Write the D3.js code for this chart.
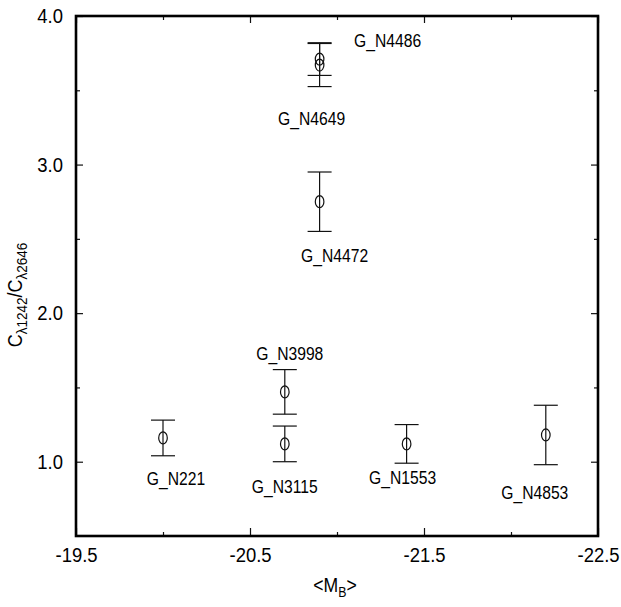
<!DOCTYPE html>
<meta charset="UTF-8">
<title>C1242/C2646 vs MB</title>
<style>
  body { margin: 0; background: #fff; }
  svg text { font-family: "Liberation Sans", Arial, Helvetica, sans-serif; fill: #000; }
</style>
<script src="https://d3js.org/d3.v7.min.js"></script>
<body>
<script>
  // galaxy data
  var galaxies = ["G_N221", "G_N3998", "G_N3115", "G_N1553", "G_N4853", "G_N4472", "G_N4649", "G_N4486"];
  var magB     = [-20.0, -20.7, -20.7, -21.4, -22.2, -20.9, -20.9, -20.9];
  var ratio    = [1.16, 1.47, 1.12, 1.12, 1.18, 2.75, 3.67, 3.71];
  var ratioErr = [0.12, 0.15, 0.12, 0.13, 0.20, 0.20, 0.145, 0.11];

  // label placement relative to each point (px)
  var labelDx = [13, 5, 0, -4, -11, 15, -8, 68];
  var labelDy = [47, -32, 49, 40, 64, 60, 60, -12];

  var xTicks = [-19.5, -20.5, -21.5, -22.5];
  var xMinor = [-20.0, -21.0, -22.0];
  var yTicks = [1.0, 2.0, 3.0, 4.0];
  var yMinor = [1.5, 2.5, 3.5];

  var W = 621, H = 607;
  var mLeft = 76, mRight = 598, mTop = 16, mBottom = 536;

  var svg = d3.select("body").append("svg").attr("width", W).attr("height", H);

  var x = d3.scaleLinear().domain([-19.5, -22.5]).range([mLeft, mRight]);
  var y = d3.scaleLinear().domain([0.5, 4.0]).range([mBottom, mTop]);
  var fmt = function(d) { return d.toFixed(1); };

  // the original uses a narrow helvetica, squeeze the glyphs a bit
  function narrow(sel, k) {
    sel.each(function() {
      var w = this.getComputedTextLength();
      d3.select(this).attr("textLength", w * k).attr("lengthAdjust", "spacingAndGlyphs");
    });
  }

  function tickLayer(axis, tr) {
    var g = svg.append("g").attr("transform", tr).call(axis);
    g.select(".domain").remove();
    g.selectAll(".tick line").attr("stroke", "#111").attr("stroke-width", 1.2);
    return g;
  }

  // major ticks with labels
  var gx = tickLayer(d3.axisBottom(x).tickValues(xTicks).tickSize(-8).tickFormat(fmt), "translate(0," + mBottom + ")");
  gx.selectAll("text").attr("font-size", 20.5).attr("y", 11).attr("dy", "0.72em").call(narrow, 0.9);
  var gy = tickLayer(d3.axisLeft(y).tickValues(yTicks).tickSize(-7).tickFormat(fmt), "translate(" + mLeft + ",0)");
  gy.selectAll("text").attr("font-size", 20.5).attr("x", -13).call(narrow, 0.9);

  // minor ticks and mirrored ticks
  tickLayer(d3.axisBottom(x).tickValues(xMinor).tickSize(-4).tickFormat(""), "translate(0," + mBottom + ")");
  tickLayer(d3.axisLeft(y).tickValues(yMinor).tickSize(-4).tickFormat(""), "translate(" + mLeft + ",0)");
  tickLayer(d3.axisTop(x).tickValues(xTicks).tickSize(-7).tickFormat(""), "translate(0," + mTop + ")");
  tickLayer(d3.axisTop(x).tickValues(xMinor).tickSize(-4).tickFormat(""), "translate(0," + mTop + ")");
  tickLayer(d3.axisRight(y).tickValues(yTicks).tickSize(-7).tickFormat(""), "translate(" + mRight + ",0)");
  tickLayer(d3.axisRight(y).tickValues(yMinor).tickSize(-4).tickFormat(""), "translate(" + mRight + ",0)");

  // frame
  svg.append("rect")
    .attr("x", mLeft).attr("y", mTop)
    .attr("width", mRight - mLeft).attr("height", mBottom - mTop)
    .attr("fill", "none").attr("stroke", "#000").attr("stroke-width", 2.6);

  // points with error bars
  var idx = d3.range(galaxies.length);
  var pts = svg.append("g").selectAll("g").data(idx).enter().append("g")
    .attr("stroke", "#111").attr("stroke-width", 1.2).attr("fill", "none");

  pts.append("line")
    .attr("x1", function(i) { return x(magB[i]); })
    .attr("x2", function(i) { return x(magB[i]); })
    .attr("y1", function(i) { return y(ratio[i] + ratioErr[i]); })
    .attr("y2", function(i) { return y(ratio[i] - ratioErr[i]); });
  pts.append("line")
    .attr("x1", function(i) { return x(magB[i]) - 12; })
    .attr("x2", function(i) { return x(magB[i]) + 12; })
    .attr("y1", function(i) { return y(ratio[i] + ratioErr[i]); })
    .attr("y2", function(i) { return y(ratio[i] + ratioErr[i]); });
  pts.append("line")
    .attr("x1", function(i) { return x(magB[i]) - 12; })
    .attr("x2", function(i) { return x(magB[i]) + 12; })
    .attr("y1", function(i) { return y(ratio[i] - ratioErr[i]); })
    .attr("y2", function(i) { return y(ratio[i] - ratioErr[i]); });
  pts.append("ellipse")
    .attr("cx", function(i) { return x(magB[i]); })
    .attr("cy", function(i) { return y(ratio[i]); })
    .attr("rx", 4.3).attr("ry", 6)
    .attr("fill", "none");

  svg.append("g").selectAll("text").data(idx).enter().append("text")
    .attr("x", function(i) { return x(magB[i]) + labelDx[i]; })
    .attr("y", function(i) { return y(ratio[i]) + labelDy[i]; })
    .attr("text-anchor", "middle")
    .attr("font-size", 18)
    .text(function(i) { return galaxies[i]; })
    .call(narrow, 0.87);

  // axis titles
  var xt = svg.append("text")
    .attr("x", (mLeft + mRight) / 2 - 2).attr("y", 592)
    .attr("text-anchor", "middle").attr("font-size", 20);
  xt.append("tspan").text("<M");
  xt.append("tspan").attr("font-size", 14).attr("dy", 5).text("B");
  xt.append("tspan").attr("dy", -5).text(">");
  xt.call(narrow, 0.88);

  var yt = svg.append("text")
    .attr("transform", "translate(22,295) rotate(-90)")
    .attr("text-anchor", "middle").attr("font-size", 20);
  yt.append("tspan").text("C");
  yt.append("tspan").attr("font-size", 15).attr("dy", 5).text("λ1242");
  yt.append("tspan").attr("dy", -5).text("/C");
  yt.append("tspan").attr("font-size", 15).attr("dy", 5).text("λ2646");
  yt.call(narrow, 0.9);
</script>
</body>
